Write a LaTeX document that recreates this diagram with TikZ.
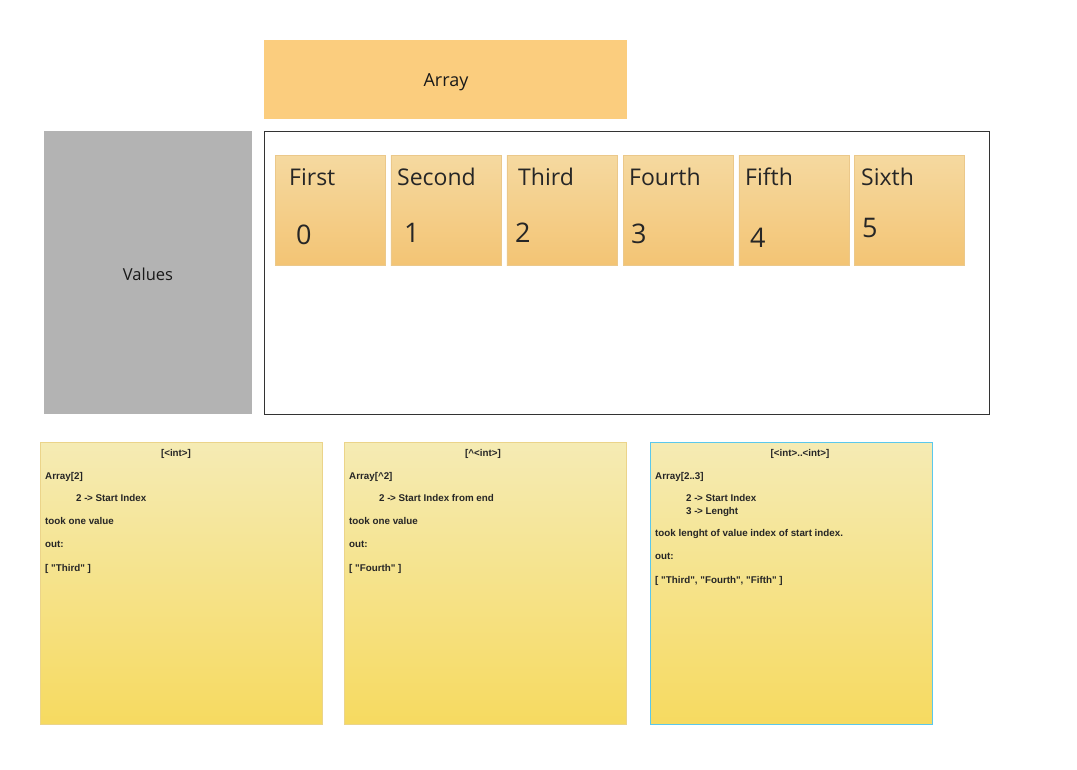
\documentclass[tikz,border=0pt]{standalone}
\usepackage{fontspec}
\setmainfont{Open Sans}
\newfontfamily\notefont{Liberation Sans}
\newfontfamily\handfont{Open Sans}
\definecolor{headfill}{HTML}{FBCD7E}
\definecolor{valfill}{HTML}{B3B3B3}
\definecolor{celltop}{HTML}{F5D9A0}
\definecolor{cellbot}{HTML}{F3C474}
\definecolor{celledge}{HTML}{EBC88A}
\definecolor{notetop}{HTML}{F5EBB4}
\definecolor{notebot}{HTML}{F6DA60}
\definecolor{noteedge}{HTML}{EBD48A}
\definecolor{selblue}{HTML}{5BC8EC}
\newcommand{\arr}{-{\kern-.5pt}>}

\begin{document}
\begin{tikzpicture}[x=1pt,y=-1pt]
\tikzset{every node/.style={inner sep=0pt}}
\tikzset{cellbox/.style={anchor=north west, minimum width=110pt, minimum height=110pt, draw=celledge, line width=0.5pt, top color=celltop, bottom color=cellbot}}
\tikzset{celltext/.style={anchor=base west, font=\handfont\fontsize{23}{26}\selectfont, text=black!85}}
\tikzset{cellnum/.style={anchor=base west, font=\handfont\fontsize{27}{30}\selectfont, text=black!85}}
\tikzset{notebox/.style={anchor=north west, minimum width=282pt, minimum height=282pt, draw=noteedge, line width=0.5pt, top color=notetop, bottom color=notebot}}
\tikzset{notetext/.style={anchor=base west, font=\notefont\bfseries\fontsize{9.8}{11}\selectfont, text=black!85}}
\useasboundingbox (0,0) rectangle (1077,770);
% header and side
\node (head) [anchor=north west, minimum width=363pt, minimum height=79pt, fill=headfill] at (264,40) {};
\node (headtxt) [font=\fontsize{18}{21}\selectfont, text=black!90] at (446,82) {Array};
\node (values) [anchor=north west, minimum width=208pt, minimum height=283pt, fill=valfill] at (44,131) {};
\node (valtxt) [font=\fontsize{16.5}{19}\selectfont, text=black!90] at (148,274) {Values};
\node (frame) [anchor=north west, minimum width=725pt, minimum height=283pt, draw=black!80, line width=0.6pt, fill=white] at (264,131) {};
% cells
\node (c0) [cellbox] at (275,155) {};
\node (c1) [cellbox] at (390.5,155) {};
\node (c2) [cellbox] at (506.5,155) {};
\node (c3) [cellbox] at (623,155) {};
\node (c4) [cellbox] at (738.5,155) {};
\node (c5) [cellbox] at (854,155) {};
\node (t0) [celltext] at (289,186) {First};
\node (t1) [celltext] at (397,186) {Second};
\node (t2) [celltext] at (518,186) {Third};
\node (t3) [celltext] at (629,186) {Fourth};
\node (t4) [celltext] at (745,186) {Fifth};
\node (t5) [celltext] at (861,186) {Sixth};
\node (n0) [cellnum] at (296,245) {0};
\node (n1) [cellnum] at (404,243) {1};
\node (n2) [cellnum] at (515,243) {2};
\node (n3) [cellnum] at (631,244) {3};
\node (n4) [cellnum] at (750,248) {4};
\node (n5) [cellnum] at (862,238) {5};
% notes
\node (note1) [notebox] at (40,442) {};
\node (note2) [notebox] at (344,442) {};
\node (note3) [notebox, draw=selblue, line width=0.8pt] at (650,442) {};
\node (h1) [notetext, anchor=base] at (176,456) {[<int>]};
\node (a1) [notetext] at (45,479) {Array[2]};
\node (b1) [notetext] at (76,501) {2 \arr{} Start Index};
\node (d1) [notetext] at (45,524) {took one value};
\node (o1) [notetext] at (45,547) {out:};
\node (r1) [notetext] at (45,571) {[ "Third" ]};
\node (h2) [notetext, anchor=base] at (483,456) {[\^{}<int>]};
\node (a2) [notetext] at (349,479) {Array[\^{}2]};
\node (b2) [notetext] at (379,501) {2 \arr{} Start Index from end};
\node (d2) [notetext] at (349,524) {took one value};
\node (o2) [notetext] at (349,547) {out:};
\node (r2) [notetext] at (349,571) {[ "Fourth" ]};
\node (h3) [notetext, anchor=base] at (800,456) {[<int>..<int>]};
\node (a3) [notetext] at (655,479) {Array[2..3]};
\node (b3) [notetext] at (686,501) {2 \arr{} Start Index};
\node (e3) [notetext] at (686,514) {3 \arr{} Lenght};
\node (d3) [notetext] at (655,536) {took lenght of value index of start index.};
\node (o3) [notetext] at (655,559) {out:};
\node (r3) [notetext] at (655,583) {[ "Third", "Fourth", "Fifth" ]};
\end{tikzpicture}
\end{document}
